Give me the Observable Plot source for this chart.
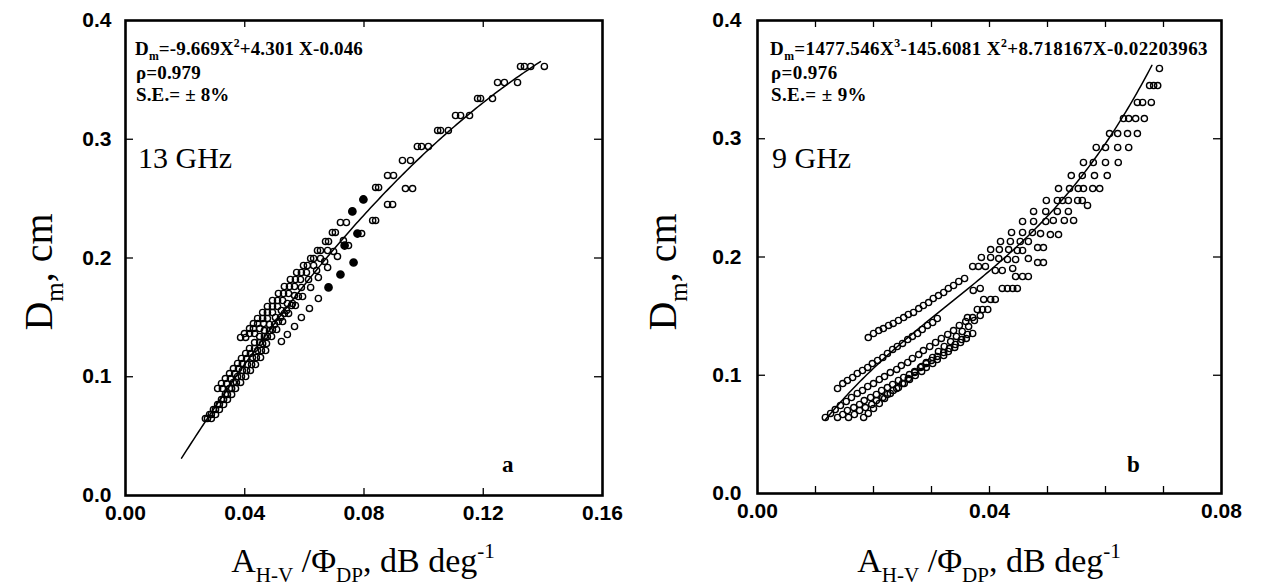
<!DOCTYPE html>
<html><head><meta charset="utf-8">
<script src="https://cdn.jsdelivr.net/npm/d3@7"></script>
<script src="https://cdn.jsdelivr.net/npm/@observablehq/plot@0.6"></script>
<style>
html,body{margin:0;padding:0;background:#fff;}
#wrap{position:relative;width:1261px;height:586px;overflow:hidden;background:#fff;}
#wrap svg{position:absolute;top:0;}
</style></head><body><div id="wrap"></div>
<script>
// ---------- Panel a: 13 GHz ----------
const a_band1 = [[0.1325,0.3613],[0.1248,0.3478],[0.1181,0.3343],[0.1107,0.3200],[0.1047,0.3074],[0.0979,0.2939],[0.0929,0.2821],[0.0879,0.2695],[0.0839,0.2594],[0.0798,0.2493],[0.0761,0.2392],[0.0721,0.2299],[0.0694,0.2215],[0.0671,0.2139],[0.0644,0.2063],[0.0621,0.1996],[0.0597,0.1937],[0.0574,0.1878],[0.0553,0.1819],[0.0533,0.1760],[0.0513,0.1701],[0.0493,0.1642],[0.0476,0.1592],[0.0460,0.1541],[0.0443,0.1491],[0.0429,0.1448],[0.0416,0.1406],[0.0399,0.1364],[0.0386,0.1331]];
const a_band1b = [[0.1338,0.3613],[0.1271,0.3478],[0.1191,0.3343],[0.1124,0.3200],[0.1057,0.3074],[0.0993,0.2939],[0.0956,0.2821],[0.0899,0.2695],[0.0849,0.2594],[0.0741,0.2299],[0.0704,0.2215],[0.0681,0.2139],[0.0654,0.2063],[0.0631,0.1996],[0.0610,0.1937],[0.0590,0.1878],[0.0570,0.1819],[0.0550,0.1760],[0.0530,0.1701],[0.0510,0.1642],[0.0493,0.1592],[0.0476,0.1541],[0.0460,0.1491],[0.0443,0.1448],[0.0429,0.1406],[0.0416,0.1364],[0.0403,0.1331]];
const a_band1c = [[0.0678,0.2063],[0.0654,0.1996],[0.0631,0.1937],[0.0607,0.1878],[0.0587,0.1819],[0.0567,0.1760],[0.0547,0.1701],[0.0527,0.1642],[0.0510,0.1592],[0.0493,0.1541],[0.0476,0.1491],[0.0463,0.1448],[0.0450,0.1406],[0.0433,0.1364]];
const a_top = [[0.1359,0.3613],[0.1405,0.3613],[0.1315,0.3478],[0.1231,0.3343],[0.1154,0.3200],[0.1083,0.3074],[0.1016,0.2939]];
const a_mid = [[0.0309,0.0901],[0.0322,0.0943],[0.0335,0.0985],[0.0349,0.1027],[0.0362,0.1069],[0.0376,0.1112],[0.0389,0.1154],[0.0403,0.1196],[0.0416,0.1238],[0.0433,0.1288],[0.0450,0.1339],[0.0466,0.1389],[0.0483,0.1440],[0.0503,0.1499],[0.0523,0.1558],[0.0543,0.1617],[0.0567,0.1684],[0.0590,0.1752],[0.0614,0.1819],[0.0641,0.1895],[0.0668,0.1971],[0.0698,0.2055],[0.0731,0.2147]];
const a_mid2 = [[0.0325,0.0901],[0.0339,0.0943],[0.0352,0.0985],[0.0366,0.1027],[0.0379,0.1069],[0.0392,0.1112],[0.0406,0.1154],[0.0419,0.1196],[0.0433,0.1238],[0.0450,0.1288],[0.0466,0.1339],[0.0483,0.1389],[0.0500,0.1440],[0.0520,0.1499],[0.0540,0.1558],[0.0560,0.1617]];
const a_right = [[0.0963,0.2585],[0.0896,0.2451],[0.0839,0.2316],[0.0792,0.2206],[0.0748,0.2105],[0.0711,0.2013],[0.0678,0.1920],[0.0647,0.1836],[0.0621,0.1752],[0.0594,0.1676],[0.0570,0.1600],[0.0547,0.1533],[0.0527,0.1465],[0.0507,0.1398],[0.0490,0.1339],[0.0473,0.1280],[0.0456,0.1221],[0.0439,0.1162],[0.0423,0.1103],[0.0406,0.1053],[0.0389,0.1002],[0.0372,0.0952],[0.0356,0.0901],[0.0342,0.0851],[0.0329,0.0808],[0.0315,0.0766],[0.0302,0.0724],[0.0288,0.0682],[0.0275,0.0648]];
const a_right2 = [[0.0939,0.2585],[0.0879,0.2451],[0.0829,0.2316],[0.0580,0.1676],[0.0557,0.1600],[0.0533,0.1533],[0.0513,0.1465],[0.0493,0.1398],[0.0476,0.1339],[0.0460,0.1280],[0.0443,0.1221],[0.0426,0.1162],[0.0409,0.1103],[0.0392,0.1053],[0.0376,0.1002],[0.0362,0.0952],[0.0349,0.0901],[0.0335,0.0851],[0.0322,0.0808],[0.0309,0.0766],[0.0295,0.0724],[0.0282,0.0682],[0.0268,0.0648]];
const a_right3 = [[0.0470,0.1221],[0.0453,0.1162],[0.0436,0.1103],[0.0419,0.1053],[0.0403,0.1002],[0.0386,0.0952],[0.0369,0.0901],[0.0356,0.0851],[0.0342,0.0808],[0.0329,0.0766],[0.0315,0.0724],[0.0302,0.0682],[0.0288,0.0648]];
const a_far = [[0.0647,0.1659],[0.0617,0.1575],[0.0590,0.1499],[0.0567,0.1423],[0.0543,0.1356],[0.0523,0.1297]];
const a_solid = [[0.0798,0.2493],[0.0761,0.2392],[0.0778,0.2206],[0.0735,0.2105],[0.0765,0.1962],[0.0721,0.1861],[0.0681,0.1752]];
const a_fitCoef = [-0.046, 4.301, -9.669];           // c0 + c1 X + c2 X^2
const a_fitRange = [0.0188, 0.1392];
const a_xTicks = [0, 0.04, 0.08, 0.12, 0.16];
const a_xInner = [0.04, 0.08, 0.12];

// ---------- Panel b: 9 GHz ----------
const b_A = [[0.0191,0.1319],[0.0200,0.1353],[0.0209,0.1378],[0.0217,0.1395],[0.0226,0.1421],[0.0234,0.1438],[0.0243,0.1463],[0.0252,0.1488],[0.0260,0.1514],[0.0269,0.1531],[0.0278,0.1564],[0.0286,0.1590],[0.0295,0.1615],[0.0303,0.1649],[0.0312,0.1674],[0.0321,0.1700],[0.0329,0.1734],[0.0338,0.1759],[0.0347,0.1793],[0.0357,0.1818]];
const b_B = [[0.0138,0.0888],[0.0147,0.0930],[0.0155,0.0956],[0.0164,0.0981],[0.0172,0.1015],[0.0181,0.1040],[0.0190,0.1066],[0.0198,0.1099],[0.0207,0.1125],[0.0216,0.1150],[0.0224,0.1184],[0.0233,0.1218],[0.0241,0.1243],[0.0250,0.1269],[0.0259,0.1302],[0.0267,0.1328],[0.0276,0.1353],[0.0284,0.1387],[0.0293,0.1421],[0.0302,0.1446],[0.0310,0.1480]];
const b_V1 = [[0.0117,0.0643],[0.0126,0.0677],[0.0134,0.0710],[0.0143,0.0744],[0.0153,0.0778],[0.0162,0.0812],[0.0172,0.0846],[0.0181,0.0871],[0.0190,0.0905],[0.0200,0.0930],[0.0210,0.0964],[0.0219,0.0989],[0.0229,0.1023],[0.0240,0.1049],[0.0248,0.1082],[0.0259,0.1108],[0.0267,0.1142],[0.0278,0.1175],[0.0286,0.1209],[0.0297,0.1243],[0.0307,0.1277],[0.0317,0.1311],[0.0328,0.1345],[0.0338,0.1378],[0.0348,0.1421],[0.0359,0.1455]];
const b_V2 = [[0.0138,0.0643],[0.0147,0.0668],[0.0155,0.0702],[0.0166,0.0727],[0.0176,0.0753],[0.0184,0.0786],[0.0195,0.0812],[0.0205,0.0837],[0.0214,0.0871],[0.0224,0.0896],[0.0233,0.0922],[0.0243,0.0956],[0.0252,0.0981],[0.0262,0.1006],[0.0271,0.1032],[0.0281,0.1066],[0.0291,0.1099],[0.0300,0.1125],[0.0310,0.1159],[0.0321,0.1192],[0.0331,0.1226],[0.0341,0.1260],[0.0352,0.1302],[0.0362,0.1345]];
const b_V3 = [[0.0157,0.0643],[0.0167,0.0668],[0.0176,0.0702],[0.0186,0.0727],[0.0197,0.0753],[0.0205,0.0786],[0.0216,0.0812],[0.0224,0.0837],[0.0234,0.0871],[0.0243,0.0896],[0.0253,0.0930],[0.0262,0.0964],[0.0272,0.0998],[0.0283,0.1032],[0.0291,0.1066],[0.0302,0.1099],[0.0310,0.1133],[0.0321,0.1167],[0.0329,0.1201],[0.0340,0.1235],[0.0350,0.1277],[0.0360,0.1311],[0.0371,0.1353]];
const b_V4 = [[0.0183,0.0643],[0.0191,0.0677],[0.0200,0.0719],[0.0210,0.0761],[0.0219,0.0803],[0.0229,0.0846],[0.0240,0.0888],[0.0250,0.0930],[0.0260,0.0973],[0.0271,0.1023],[0.0283,0.1074],[0.0291,0.1108],[0.0302,0.1150],[0.0312,0.1201],[0.0322,0.1243],[0.0333,0.1285],[0.0343,0.1328],[0.0353,0.1370],[0.0364,0.1412],[0.0374,0.1463],[0.0384,0.1505],[0.0397,0.1556]];
const b_rows = [[0.0693,0.3594],
 [0.0676,0.3450],[0.0683,0.3450],[0.0690,0.3450],
 [0.0655,0.3307],[0.0664,0.3307],[0.0679,0.3307],
 [0.0631,0.3171],[0.0640,0.3171],[0.0652,0.3171],[0.0667,0.3171],
 [0.0607,0.3044],[0.0621,0.3044],[0.0638,0.3044],[0.0655,0.3044],
 [0.0584,0.2926],[0.0600,0.2926],[0.0621,0.2926],[0.0640,0.2926],
 [0.0562,0.2799],[0.0579,0.2799],[0.0600,0.2799],[0.0622,0.2799],
 [0.0541,0.2689],[0.0560,0.2689],[0.0581,0.2689],[0.0603,0.2689],
 [0.0519,0.2579],[0.0538,0.2579],[0.0553,0.2579],[0.0562,0.2579],[0.0578,0.2579],[0.0590,0.2579],
 [0.0498,0.2478],[0.0517,0.2478],[0.0526,0.2478],[0.0536,0.2478],[0.0552,0.2478],[0.0560,0.2478],[0.0569,0.2436],
 [0.0476,0.2385],[0.0497,0.2385],[0.0517,0.2385],[0.0536,0.2385],
 [0.0457,0.2300],[0.0476,0.2300],[0.0497,0.2300],[0.0510,0.2309],[0.0529,0.2309],[0.0545,0.2309],
 [0.0438,0.2207],[0.0457,0.2207],[0.0474,0.2207],[0.0488,0.2198],[0.0505,0.2190],[0.0519,0.2190],
 [0.0419,0.2131],[0.0436,0.2131],[0.0453,0.2131],[0.0467,0.2131],[0.0483,0.2080],[0.0493,0.2080],
 [0.0402,0.2063],[0.0417,0.2063],[0.0433,0.2063],[0.0448,0.2055],[0.0457,0.2055],[0.0467,0.1987],[0.0483,0.1953],[0.0493,0.1953],
 [0.0386,0.1996],[0.0402,0.1996],[0.0416,0.1987],[0.0431,0.1979],[0.0445,0.1979],
 [0.0371,0.1920],[0.0381,0.1920],[0.0393,0.1920],[0.0410,0.1886],[0.0422,0.1886],[0.0440,0.1903],
 [0.0445,0.1835],[0.0457,0.1835],[0.0467,0.1835],[0.0372,0.1717],[0.0384,0.1734],
 [0.0422,0.1734],[0.0431,0.1734],[0.0440,0.1734],[0.0448,0.1734],
 [0.0390,0.1641],[0.0402,0.1641],[0.0410,0.1641],[0.0379,0.1556],[0.0388,0.1556],
 [0.0362,0.1488],[0.0371,0.1488]];
const b_fitCoef = [-0.02203963, 8.718167, -145.6081, 1477.546];
const b_fitRange = [0.0117, 0.068];
const b_xTicks = [0, 0.04, 0.08];
const b_xInner = [0.01, 0.02, 0.03, 0.04, 0.05, 0.06, 0.07];

const yTicks = [0, 0.1, 0.2, 0.3, 0.4];
const yInner = [0.1, 0.2, 0.3];

// ---------- drawing ----------
const H = 586, MT = 20;
const SERIF = "'Liberation Serif','Times New Roman',serif";
const SANS = "'Liberation Sans',Arial,sans-serif";

function fitLine(coef, range) {
  const n = 150;
  return d3.range(n + 1).map(i => {
    const x = range[0] + (range[1] - range[0]) * i / n;
    return {x, y: coef.reduce((s, c, k) => s + c * Math.pow(x, k), 0)};
  });
}

function panel(o) {
  const innerH = H - MT - o.mb, innerW = o.width - o.ml - o.mr;
  return Plot.plot({
    width: o.width, height: H, marginLeft: o.ml, marginRight: o.mr, marginTop: MT, marginBottom: o.mb,
    x: {domain: o.xDomain}, y: {domain: [0, 0.4]},
    style: {fontFamily: SANS, fontSize: "21px", fontWeight: "bold", color: "#000", background: "transparent", overflow: "visible"},
    marks: [
      Plot.dot(o.pts, {x: d => d[0], y: d => d[1], r: 3.1, stroke: "#000", strokeWidth: 1.4, fill: "none"}),
      Plot.dot(o.solid, {x: d => d[0], y: d => d[1], r: 3.6, fill: "#000", stroke: "#000"}),
      Plot.line(fitLine(o.coef, o.range), {x: "x", y: "y", stroke: "#000", strokeWidth: 1.5}),
      Plot.tickX(o.xInner, {x: d => d, insetTop: innerH - 7, stroke: "#000", strokeWidth: 1.3}),
      Plot.tickX(o.xInner, {x: d => d, insetBottom: innerH - 7, stroke: "#000", strokeWidth: 1.3}),
      Plot.tickY(yInner, {y: d => d, insetRight: innerW - 8, stroke: "#000", strokeWidth: 1.3}),
      Plot.tickY(yInner, {y: d => d, insetLeft: innerW - 8, stroke: "#000", strokeWidth: 1.3}),
      Plot.frame({stroke: "#000", strokeWidth: 2.6}),
      Plot.axisX({ticks: o.xTicks, tickFormat: d3.format(".2f"), tickSize: 0, tickPadding: 10, label: null}),
      Plot.axisY({ticks: yTicks, tickFormat: d3.format(".1f"), tickSize: 0, tickPadding: o.yPad, label: null})
    ]
  });
}

function rich(sel, x, y, size, parts, attrs = {}) {
  const t = sel.append("text").attr("x", x).attr("y", y)
    .attr("font-size", size).attr("font-family", SERIF).attr("fill", "#000")
    .attr("text-anchor", "start").attr("font-weight", "normal");
  for (const k in attrs) t.attr(k, attrs[k]);
  let shift = 0;
  for (const [s, kind] of parts) {
    const target = kind === "sub" ? size * 0.28 : kind === "sup" ? -size * 0.4 : 0;
    t.append("tspan").attr("dy", target - shift)
      .attr("font-size", kind === "n" ? size : size * 0.62).text(s);
    shift = target;
  }
  return t;
}

function decorate(svgNode, o) {
  const s = d3.select(svgNode);
  const eq = {"font-weight": "bold", "letter-spacing": o.ls};
  rich(s, o.eqX, 55, 19, o.eq, eq);
  rich(s, o.eqX + 1, 79, 19, [[o.rho, "n"]], eq);
  rich(s, o.eqX + 1, 101, 19, [[o.se, "n"]], eq);
  rich(s, o.ghzX, 168, 30, [[o.ghz, "n"]]);
  rich(s, o.letterX, 472, 23, [[o.letter, "n"]], {"font-weight": "bold"});
  // y-axis title
  rich(s, 0, 0, 40, [["D", "n"], ["m", "sub"], [", cm", "n"]],
    {"text-anchor": "middle", transform: `translate(${o.yTitleX},272) rotate(-90)`});
  // x-axis title
  rich(s, o.xTitleX, 572, 34, [["A", "n"], ["H-V", "sub"], [" /Φ", "n"], ["DP", "sub"], [", dB deg", "n"], ["-1", "sup"]],
    {"text-anchor": "middle"});
}

const wrap = document.getElementById("wrap");

const pa = panel({
  width: 630, ml: 125, mr: 28, mb: 91, xDomain: [0, 0.16], yPad: 14,
  pts: [].concat(a_band1, a_band1b, a_band1c, a_top, a_mid, a_mid2, a_right, a_right2, a_right3, a_far),
  solid: a_solid, coef: a_fitCoef, range: a_fitRange, xTicks: a_xTicks, xInner: a_xInner
});
decorate(pa, {eqX: 135, ls: "0.15px", eq: [["D", "n"], ["m", "sub"], ["=-9.669X", "n"], ["2", "sup"], ["+4.301 X-0.046", "n"]],
  rho: "ρ=0.979", se: "S.E.= ± 8%", ghzX: 138, ghz: "13 GHz", letterX: 502, letter: "a", xTitleX: 363, yTitleX: 52});
pa.style.left = "0px";
wrap.appendChild(pa);

const pb = panel({
  width: 629, ml: 125, mr: 40, mb: 93, xDomain: [0, 0.08], yPad: 16,
  pts: [].concat(b_A, b_B, b_V1, b_V2, b_V3, b_V4, b_rows),
  solid: [], coef: b_fitCoef, range: b_fitRange, xTicks: b_xTicks, xInner: b_xInner
});
decorate(pb, {eqX: 138, ls: "0.4px", eq: [["D", "n"], ["m", "sub"], ["=1477.546X", "n"], ["3", "sup"], ["-145.6081 X", "n"], ["2", "sup"], ["+8.718167X-0.02203963", "n"]],
  rho: "ρ=0.976", se: "S.E.= ± 9%", ghzX: 140, ghz: "9 GHz", letterX: 495, letter: "b", xTitleX: 357, yTitleX: 44});
pb.style.left = "632px";
wrap.appendChild(pb);
</script></body></html>
